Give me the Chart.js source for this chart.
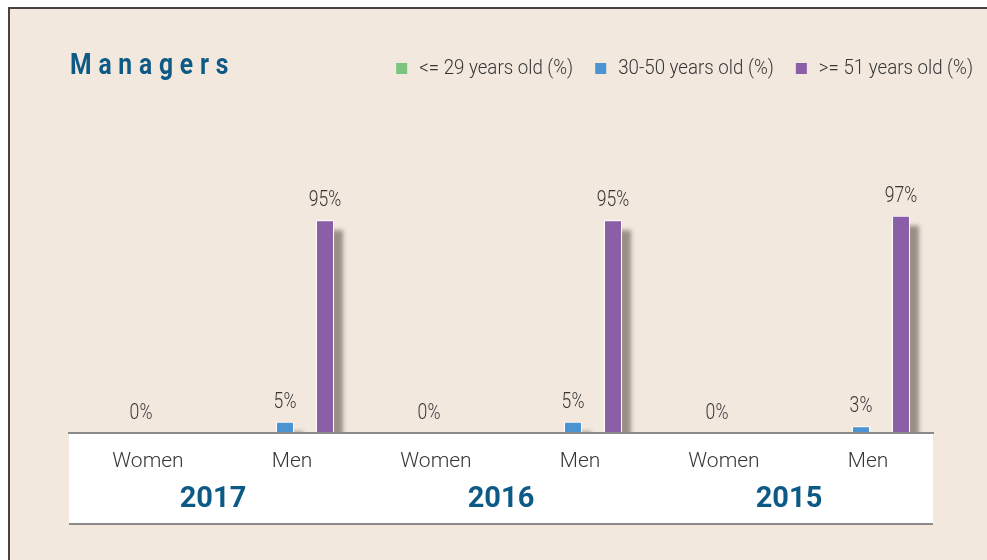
<!DOCTYPE html>
<html>
<head>
<meta charset="utf-8">
<script src="https://cdn.jsdelivr.net/npm/chart.js@4"></script>
<style>
  html, body { margin: 0; padding: 0; background: #fff; }
  canvas { display: block; }
</style>
</head>
<body>
<canvas id="managersChart" width="987" height="560"></canvas>
<script>
// Managers by gender and age band, three years side by side
const categories = ['Women', 'Men', 'Women', 'Men', 'Women', 'Men'];
const years = ['2017', '2016', '2015'];
const seriesNames = ['<= 29 years old (%)', '30-50 years old (%)', '>= 51 years old (%)'];
const under29 = [null, null, null, null, null, null];
const from30to50 = [0, 5, 0, 5, 0, 3];
const over51 = [null, 95, null, 95, null, 97];

const COLORS = ['#7bc47f', '#4b94d2', '#8a5fa8'];
const FONT = 'Roboto, "Liberation Sans", sans-serif';
const TEXT = '#363636';
const BLUE = '#0d5a86';

// fillText squeezed horizontally, for the narrow print look
function narrowText(ctx, text, x, y, squeeze) {
    ctx.save();
    ctx.translate(x, y);
    ctx.scale(squeeze, 1);
    ctx.fillText(text, 0, 0);
    ctx.restore();
}

// page frame, sand background, title and legend
const backdrop = {
    id: 'backdrop',
    beforeDraw(chart) {
        const { ctx, width, height } = chart;
        ctx.save();
        ctx.fillStyle = '#ffffff';
        ctx.fillRect(0, 0, width, height);
        ctx.fillStyle = '#4a4242';
        ctx.fillRect(8, 7, width - 8, height - 7);
        ctx.fillStyle = '#f2e8dd';
        ctx.fillRect(10, 9, width - 10, height - 9);

        ctx.fillStyle = BLUE;
        ctx.font = 'bold 29px ' + FONT;
        ctx.letterSpacing = '8px';
        ctx.textBaseline = 'alphabetic';
        narrowText(ctx, 'Managers', 70, 74, 0.85);
        ctx.letterSpacing = '0px';

        // legend, laid out from the right edge
        const squeeze = 0.89;
        ctx.font = '300 21px ' + FONT;
        ctx.textBaseline = 'middle';
        let right = 973;
        for (let i = chart.data.datasets.length - 1; i >= 0; i--) {
            const ds = chart.data.datasets[i];
            const w = ctx.measureText(ds.label).width * squeeze;
            const tx = right - w;
            ctx.fillStyle = TEXT;
            narrowText(ctx, ds.label, tx, 69, squeeze);
            ctx.fillStyle = ds.backgroundColor;
            ctx.fillRect(tx - 12 - 11, 63, 11, 11);
            right = tx - 23 - 22;
        }
        ctx.restore();
    }
};

// grey drop shadow to the lower right of every bar
const barShadow = {
    id: 'barShadow',
    beforeDatasetsDraw(chart) {
        const ctx = chart.ctx;
        ctx.save();
        ctx.filter = 'blur(2px)';
        ctx.fillStyle = 'rgba(80, 70, 62, 0.55)';
        chart.data.datasets.forEach((ds, i) => {
            chart.getDatasetMeta(i).data.forEach((bar, j) => {
                if (!ds.data[j]) return;
                const { x, y, base, width } = bar.getProps(['x', 'y', 'base', 'width']);
                ctx.fillRect(x - width / 2 + 9, y + 10, width, base - y);
            });
        });
        ctx.restore();
    }
};

// white band under the bars plus the value labels
const axisBand = {
    id: 'axisBand',
    afterDatasetsDraw(chart) {
        const { ctx, chartArea } = chart;
        const bottom = chart.scales.x2.bottom;
        const w = chartArea.right - chartArea.left;
        ctx.save();
        ctx.fillStyle = '#ffffff';
        ctx.fillRect(chartArea.left, chartArea.bottom, w, bottom - chartArea.bottom);
        ctx.fillStyle = '#8a8a8a';
        ctx.fillRect(chartArea.left, bottom, w, 2);

        ctx.font = '300 22px ' + FONT;
        ctx.fillStyle = TEXT;
        ctx.textAlign = 'center';
        ctx.textBaseline = 'alphabetic';
        chart.data.datasets.forEach((ds, i) => {
            chart.getDatasetMeta(i).data.forEach((bar, j) => {
                const v = ds.data[j];
                if (v === null) return;
                narrowText(ctx, v + '%', bar.x, bar.y - 14, 0.8);
            });
        });
        ctx.restore();
    }
};

new Chart(document.getElementById('managersChart'), {
    type: 'bar',
    data: {
        labels: categories,
        datasets: [
            { label: seriesNames[0], data: under29, backgroundColor: COLORS[0] },
            { label: seriesNames[1], data: from30to50, backgroundColor: COLORS[1] },
            { label: seriesNames[2], data: over51, backgroundColor: COLORS[2] }
        ]
    },
    options: {
        responsive: false,
        animation: false,
        devicePixelRatio: 1,
        layout: { padding: { top: 209, left: 69, right: 54, bottom: 37 } },
        datasets: {
            bar: {
                categoryPercentage: 0.8333,
                barPercentage: 0.45,
                borderWidth: 1,
                borderColor: '#ffffff'
            }
        },
        plugins: {
            legend: { display: false },
            tooltip: { enabled: false }
        },
        scales: {
            y: { display: false, min: 0, max: 100 },
            x: {
                position: 'bottom',
                weight: 0,
                grid: { display: false, drawTicks: false },
                border: { display: true, color: '#8a8a8a', width: 2, z: 1 },
                ticks: {
                    z: 1,
                    color: TEXT,
                    font: { family: FONT, size: 21, weight: 300 },
                    padding: 16,
                    labelOffset: 7,
                    autoSkip: false,
                    maxRotation: 0
                },
                afterFit: s => { s.height = 45; }
            },
            x2: {
                type: 'category',
                labels: years,
                position: 'bottom',
                offset: true,
                weight: 1,
                grid: { display: false, drawTicks: false },
                border: { display: false },
                ticks: {
                    z: 1,
                    color: BLUE,
                    font: { family: FONT, size: 29, weight: 'bold' },
                    padding: 4,
                    autoSkip: false,
                    maxRotation: 0
                },
                afterFit: s => { s.height = 45; }
            }
        }
    },
    plugins: [backdrop, barShadow, axisBand]
});
</script>
</body>
</html>
